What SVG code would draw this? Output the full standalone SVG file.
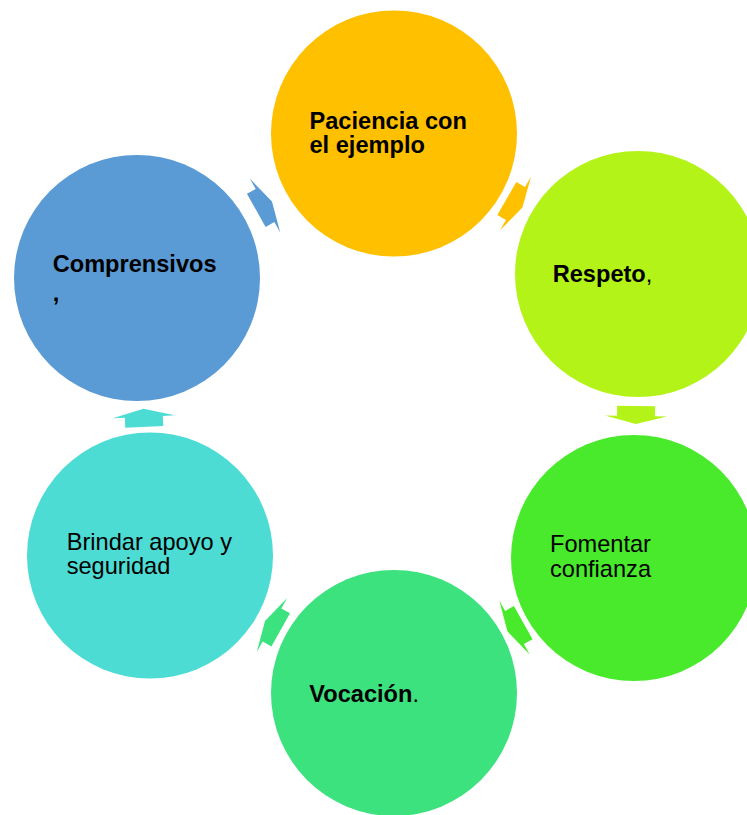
<svg xmlns="http://www.w3.org/2000/svg" width="747" height="815" viewBox="0 0 747 815">
  <style>
    .t { font-family: "Liberation Sans", Arial, sans-serif; font-size: 23.6px; fill: #000; }
    .b { font-weight: bold; }
    .n { font-weight: normal; }
  </style>
  <defs>
    <polygon id="arr" points="-10,-19 0,-19 0,-31 8,0 0,31 0,19 -10,19"/>
  </defs>
  <rect width="747" height="815" fill="#ffffff"/>
  <g id="connectors">
    <use href="#arr" fill="#FFC000" transform="translate(515.5,203.5) rotate(30)"/>
    <use href="#arr" fill="#B3F318" transform="translate(636,416) rotate(90.8)"/>
    <use href="#arr" fill="#48EA2B" transform="translate(514.5,627.5) rotate(150.6)"/>
    <use href="#arr" fill="#3CE27E" transform="translate(272,625) rotate(209.4)"/>
    <use href="#arr" fill="#4CDCD4" transform="translate(143.8,416.8) rotate(-92.7)"/>
    <use href="#arr" fill="#5B9BD5" transform="translate(265,205.5) rotate(-29.4)"/>
  </g>
  <g id="node-paciencia">
    <circle cx="394" cy="133.5" r="123" fill="#FFC000"/>
    <text class="t b" x="309.5" y="129.3">Paciencia con</text>
    <text class="t b" x="309.5" y="153">el ejemplo</text>
  </g>
  <g id="node-respeto">
    <circle cx="638" cy="274" r="123" fill="#B3F318"/>
    <text class="t" x="552.7" y="281.7"><tspan class="b">Respeto</tspan><tspan class="n">,</tspan></text>
  </g>
  <g id="node-fomentar">
    <circle cx="634" cy="558" r="123" fill="#48EA2B"/>
    <text class="t" x="550" y="552.3">Fomentar</text>
    <text class="t" x="550" y="576.7">confianza</text>
  </g>
  <g id="node-vocacion">
    <circle cx="394" cy="693" r="123" fill="#3CE27E"/>
    <text class="t" x="309.3" y="702.3"><tspan class="b">Vocación</tspan><tspan class="n">.</tspan></text>
  </g>
  <g id="node-brindar">
    <circle cx="150" cy="555.5" r="123" fill="#4CDCD4"/>
    <text class="t" x="66.7" y="550">Brindar apoyo y</text>
    <text class="t" x="66.7" y="574.3">seguridad</text>
  </g>
  <g id="node-comprensivos">
    <circle cx="137" cy="278" r="123" fill="#5B9BD5"/>
    <text class="t b" x="52.7" y="272.3">Comprensivos</text>
    <text class="t b" x="52.7" y="301">,</text>
  </g>
</svg>
